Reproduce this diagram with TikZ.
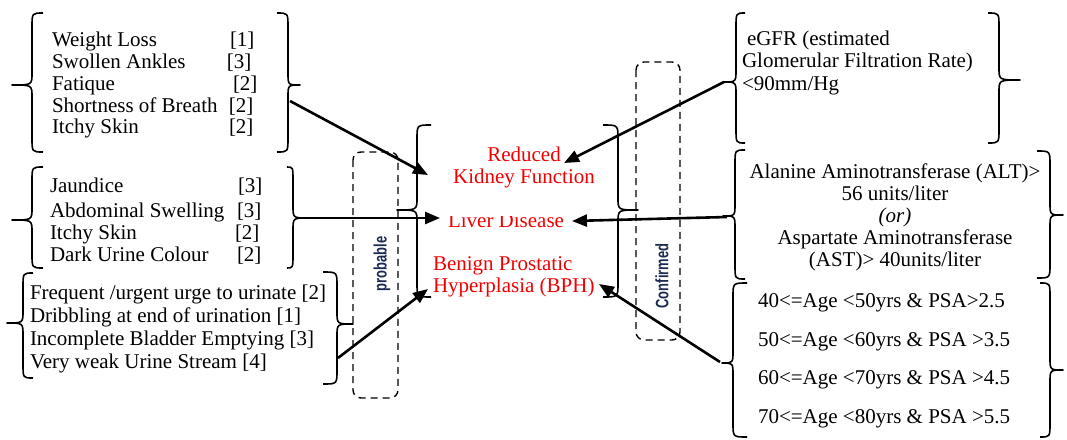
\documentclass[tikz,border=0pt]{standalone}
\usepackage{fontspec}
\setmainfont{Liberation Serif}
\newfontfamily\labfont[FakeStretch=0.72]{Liberation Sans Bold}
\newcommand\labstyle{\labfont\fontsize{18}{18}\selectfont}
\usetikzlibrary{arrows.meta}
\definecolor{navy}{RGB}{28,42,82}
\definecolor{dred}{RGB}{240,0,0}
\newcommand\Brace[6]{\draw[bracestroke] ({#3},{#4}) .. controls ({#2},{#4}) .. ({#2},{#4+14}) -- ({#2},{#5-12}) .. controls ({#2},{#5}) .. ({#1},{#5}) .. controls ({#2},{#5}) .. ({#2},{#5+12}) -- ({#2},{#6-14}) .. controls ({#2},{#6}) .. ({#3},{#6});}
\begin{document}
\begin{tikzpicture}[x=1pt,y=-1pt,
  bracestroke/.style={line width=1.6pt,line join=round},
  conn/.style={line width=2.6pt,-{Triangle[length=15pt,width=12pt]}},
  dbox/.style={line width=1.4pt,dash pattern=on 7pt off 5pt,rounded corners=8pt},
  txt/.style={inner sep=0pt,outer sep=0pt},
  redtxt/.style={inner sep=0pt,outer sep=0pt,text=dred},
  lab/.style={inner sep=0pt,rotate=90,text=navy}]
\useasboundingbox (0,0) rectangle (1067,439);

% dashed boxes
\draw[dbox] (353,152) rectangle (398,398);
\draw[dbox] (636,62) rectangle (680,340);
\node[lab,font=\labstyle] (probable) at (382,264) {probable};
\node[lab,font=\labstyle] (confirmed) at (662,276) {Confirmed};

% braces
\Brace{12}{32}{43}{13}{85}{152}
\Brace{300}{288}{277}{13}{85}{152}
\Brace{12}{32}{43}{167}{220}{268}
\Brace{308}{293}{287}{167}{218}{268}
\Brace{7}{23}{33}{273}{323}{378}
\Brace{353}{337}{323}{272}{324}{384}
\Brace{397}{417}{431}{125}{210}{297}
\Brace{638}{618}{603}{125}{210}{297}
\Brace{723}{736}{745}{13}{82}{143}
\Brace{1020}{999}{988}{13}{80}{143}
\Brace{723}{735}{745}{150}{216}{279}
\Brace{1063}{1050}{1037}{151}{215}{278}
\Brace{722}{733}{747}{283}{363}{437}
\Brace{1063}{1050}{1040}{283}{370}{437}

% left symptom groups
\node[txt,anchor=north west,font=\fontsize{21}{21.7}\selectfont] (kidsym) at (52,31.8) {%
\begin{tabular}{@{}l@{}}
\makebox[178pt][l]{Weight Loss}[1]\\
\makebox[175pt][l]{Swollen Ankles}[3]\\
\makebox[181pt][l]{Fatique}[2]\\
\makebox[177pt][l]{Shortness of Breath}[2]\\
\makebox[177pt][l]{Itchy Skin}[2]
\end{tabular}};
\node[txt,anchor=north west,font=\fontsize{21}{22}\selectfont] (livsym) at (50,176.6) {%
\begin{tabular}{@{}l@{}}
\makebox[188pt][l]{Jaundice}[3]\\[3pt]
\makebox[187pt][l]{Abdominal Swelling}[3]\\
\makebox[185pt][l]{Itchy Skin}[2]\\
\makebox[187pt][l]{Dark Urine Colour}[2]
\end{tabular}};
\node[txt,anchor=north west,font=\fontsize{21}{22.7}\selectfont] (bphsym) at (30,284.1) {%
\begin{tabular}{@{}l@{}}
Frequent /urgent urge to urinate [2]\\
Dribbling at end of urination [1]\\
Incomplete Bladder Emptying [3]\\
Very weak Urine Stream [4]
\end{tabular}};

% right test groups
\node[txt,anchor=north west,font=\fontsize{21}{22.5}\selectfont] (kidtest) at (742,29.25) {%
\begin{tabular}{@{}l@{}}
\hspace*{5pt}eGFR (estimated\\
Glomerular Filtration Rate)\\
<90mm/Hg
\end{tabular}};
\node[txt,anchor=north,font=\fontsize{21}{22}\selectfont] (livtest) at (895,162.6) {%
\begin{tabular}{@{}c@{}}
Alanine Aminotransferase (ALT)>\\
56 units/liter\\
\textit{(or)}\\
Aspartate Aminotransferase\\
(AST)> 40units/liter
\end{tabular}};
\node[txt,anchor=north west,font=\fontsize{21}{38.5}\selectfont] (bphtest) at (758,281) {%
\begin{tabular}{@{}l@{}}
40<=Age <50yrs \& PSA>2.5\\
50<=Age <60yrs \& PSA >3.5\\
60<=Age <70yrs \& PSA >4.5\\
70<=Age <80yrs \& PSA >5.5
\end{tabular}};

% disease labels
\node[redtxt,anchor=north,font=\fontsize{21}{22}\selectfont] (kidney) at (524,145.6) {%
\begin{tabular}{@{}c@{}}Reduced\\Kidney Function\end{tabular}};
\begin{scope}
\clip (440,216) rectangle (575,240);
\node[redtxt,anchor=base west,font=\fontsize{21}{22}\selectfont] (liver) at (448,227) {Liver Disease};
\end{scope}
\node[redtxt,anchor=north west,font=\fontsize{21}{22}\selectfont] (bph) at (433,254.6) {%
\begin{tabular}{@{}l@{}}Benign Prostatic\\Hyperplasia (BPH)\end{tabular}};

% connector ends
\coordinate (s1) at (290,101);
\coordinate (s2) at (308,218);
\coordinate (s3) at (338,358);
\coordinate (s4) at (724,82);
\coordinate (s5) at (727,217);
\coordinate (s6) at (720,362);
\coordinate (t1) at (428,175);
\coordinate (t2) at (440,218);
\coordinate (t3) at (428,289);
\coordinate (t4) at (564,163);
\coordinate (t5) at (572,221);
\coordinate (t6) at (599,284);

\draw[conn] (s1) -- (t1);
\draw[conn] (s2) -- (t2);
\draw[conn] (s3) -- (t3);
\draw[conn] (s4) -- (t4);
\draw[conn] (s5) -- (t5);
\draw[conn] (s6) -- (t6);
\end{tikzpicture}
\end{document}
